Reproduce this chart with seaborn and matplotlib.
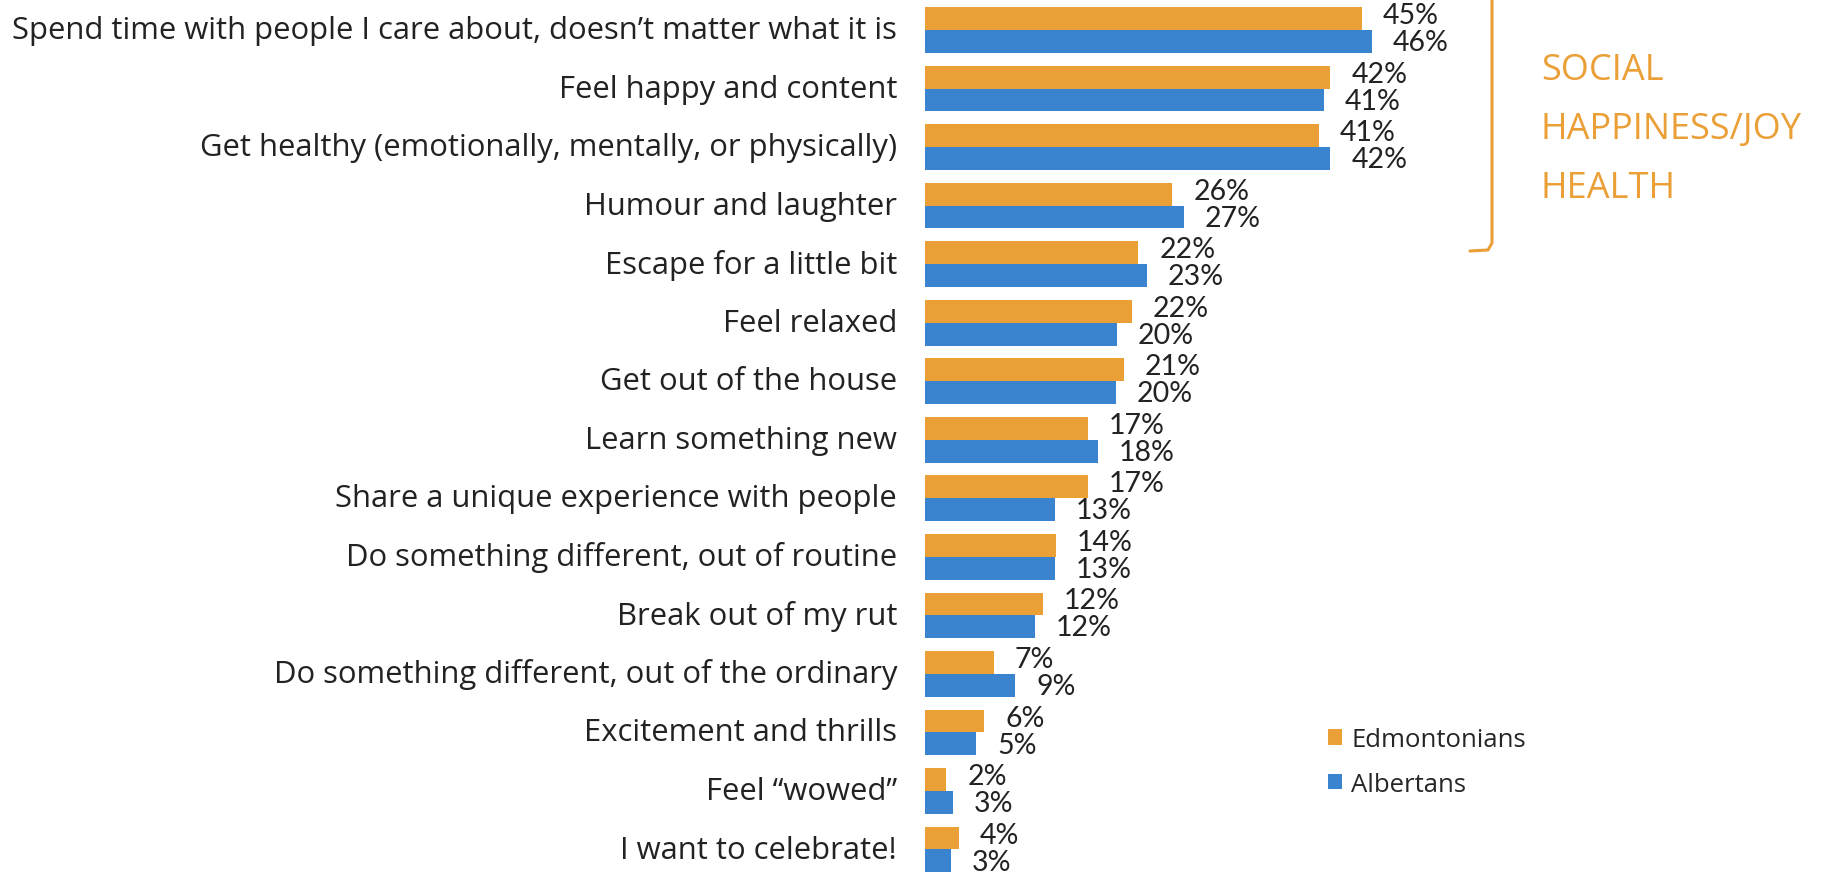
import numpy as np
import pandas as pd
import matplotlib
matplotlib.use('Agg')
import matplotlib.pyplot as plt
import matplotlib.transforms as mtransforms
from matplotlib.lines import Line2D
import seaborn as sns

# Chart data
reasons = [
    "Spend time with people I care about, doesn\u2019t matter what it is",
    "Feel happy and content",
    "Get healthy (emotionally, mentally, or physically)",
    "Humour and laughter",
    "Escape for a little bit",
    "Feel relaxed",
    "Get out of the house",
    "Learn something new",
    "Share a unique experience with people",
    "Do something different, out of routine",
    "Break out of my rut",
    "Do something different, out of the ordinary",
    "Excitement and thrills",
    "Feel \u201cwowed\u201d",
    "I want to celebrate!",
]
edmonton = [45.0, 41.8, 40.6, 25.5, 22.0, 21.3, 20.5, 16.8, 16.8, 13.5, 12.2, 7.1, 6.1, 2.2, 3.5]
alberta = [46.1, 41.1, 41.8, 26.7, 22.9, 19.8, 19.7, 17.8, 13.4, 13.4, 11.3, 9.3, 5.3, 2.9, 2.7]
edmonton_labels = ["45%", "42%", "41%", "26%", "22%", "22%", "21%", "17%", "17%", "14%", "12%", "7%", "6%", "2%", "4%"]
alberta_labels = ["46%", "41%", "42%", "27%", "23%", "20%", "20%", "18%", "13%", "13%", "12%", "9%", "5%", "3%", "3%"]
groups = ["Edmontonians", "Albertans"]
colors = ["#EA9F37", "#3A84CF"]
orange = colors[0]

df = pd.DataFrame({
    "reason": reasons * 2,
    "value": edmonton + alberta,
    "group": [groups[0]] * len(reasons) + [groups[1]] * len(reasons),
})

sns.set_style("white")
plt.rcParams['font.family'] = ['Open Sans', 'DejaVu Sans']

W, H = 1827, 878
fig = plt.figure(figsize=(W / 100, H / 100), dpi=100)
# axes placed so that bars start at x~925px
ax = fig.add_axes([925 / W, -0.002, 485 / W, 1.0])

sns.barplot(data=df, y="reason", x="value", hue="group", order=reasons,
            hue_order=groups, palette=colors, saturation=1, width=0.78, gap=0,
            linewidth=0, orient="h", ax=ax, legend=True)

ax.set_xlim(0, 50)
ax.set_ylim(14.5, -0.5)
ax.set_xlabel("")
ax.set_ylabel("")
ax.set_xticks([])
ax.tick_params(axis='y', length=0, pad=20, labelsize=22.3, labelcolor="#222222")
# nudge category labels up a little
shift = mtransforms.ScaledTranslation(0, 2.5 / 72, fig.dpi_scale_trans)
for lbl in ax.get_yticklabels():
    lbl.set_transform(lbl.get_transform() + shift)
sns.despine(ax=ax, left=True, bottom=True)

# value labels (orange ones sit a touch higher)
for cont, labs, dy in zip(ax.containers, [edmonton_labels, alberta_labels], [2.5, -0.5]):
    anns = ax.bar_label(cont, labels=labs, padding=15, fontsize=20.5, color="#222222",
                        family=['Lato', 'DejaVu Sans'], clip_on=False)
    for a in anns:
        a.xyann = (15, dy)

# legend
handles, labels = ax.get_legend_handles_labels()
ax.get_legend().remove()
fig.legend(handles, labels, loc="upper left", bbox_to_anchor=(1318 / W, 1 - 718 / H),
           frameon=False, fontsize=18.5, handlelength=0.55, handleheight=0.55,
           handletextpad=0.35, labelspacing=0.75, borderaxespad=0)

# bracket on the right
def px(x, y):
    return x / W, 1 - y / H

x0, y0 = px(1492, -4)
x1, y1 = px(1492, 244)
xh, yh = px(1470, 252)
xc, yc = px(1488, 251)
fig.add_artist(Line2D([x0, x1, xc, xh], [y0, y1, yc, yh], color=orange, lw=2.2,
                      solid_joinstyle='round'))

tx, ty = px(1541, 130)
fig.text(tx, ty, "SOCIAL\nHAPPINESS/JOY\nHEALTH", color=orange, fontsize=26,
         ha='left', va='center', linespacing=1.85)

fig.savefig("out.png", dpi=100)
